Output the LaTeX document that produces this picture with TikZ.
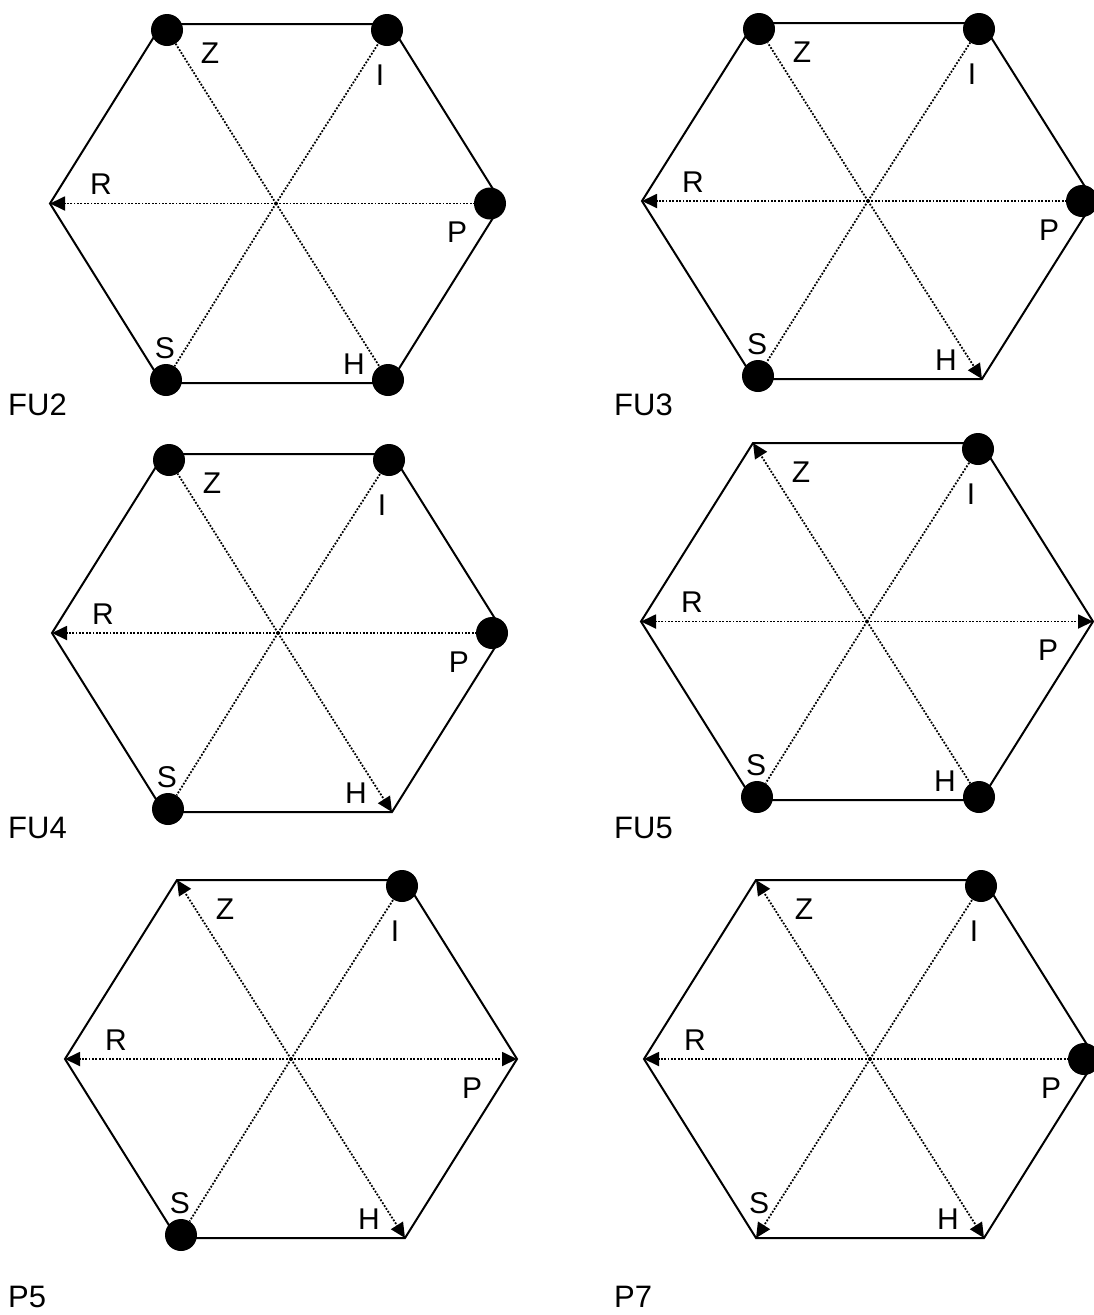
\documentclass[tikz,border=0pt]{standalone}
\usepackage{fontspec}
\setmainfont{Liberation Sans}
\usetikzlibrary{arrows.meta}
\tikzset{
  hexedge/.style={line width=2pt, line join=miter},
  ray/.style={line width=1.8pt, dash pattern=on 1.8pt off 1.6pt},
  rayarrow/.style={ray, -{Triangle[length=15pt,width=14pt]}},
  vdot/.style={circle, fill=black, draw=none, inner sep=0pt, minimum size=32pt},
  lbl/.style={inner sep=0pt, font=\fontsize{30}{30}\selectfont},
  paneltitle/.style={inner sep=0pt, anchor=west, font=\fontsize{31}{31}\selectfont},
}
% #1 prefix, #2 centre x, #3 top y, #4 bottom y
\newcommand\hexdiag[4]{%
  \pgfmathsetmacro\hcy{(#3+#4)/2}
  \coordinate (#1c) at (#2,\hcy);
  \coordinate (#1Z) at (#2-114,#3);
  \coordinate (#1I) at (#2+114,#3);
  \coordinate (#1P) at (#2+226,\hcy);
  \coordinate (#1H) at (#2+114,#4);
  \coordinate (#1S) at (#2-114,#4);
  \coordinate (#1R) at (#2-226,\hcy);
  \draw[hexedge] (#1Z) -- (#1I) -- (#1P) -- (#1H) -- (#1S) -- (#1R) -- cycle;
  \node[lbl] (#1lZ) at (#2-66,#3+29) {Z};
  \node[lbl] (#1lI) at (#2+104,#3+51) {I};
  \node[lbl] (#1lR) at (#2-175,\hcy-19) {R};
  \node[lbl] (#1lP) at (#2+181,\hcy+29) {P};
  \node[lbl] (#1lS) at (#2-111,#4-35) {S};
  \node[lbl] (#1lH) at (#2+78,#4-19) {H};
}
% dot at vertex: #1 prefix, #2 vertex, #3 dx, #4 dy
\newcommand\hexdot[4]{%
  \node[vdot] (#1d#2) at ([shift={(#3,#4)}]#1#2) {};
  \draw[ray] (#1c) -- (#1d#2);
}
\newcommand\hexarrow[2]{%
  \draw[rayarrow] (#1c) -- (#1#2);
}
\newcommand\dZ[1]{\hexdot{#1}{Z}{5}{6}}
\newcommand\dI[1]{\hexdot{#1}{I}{-3}{6}}
\newcommand\dP[1]{\hexdot{#1}{P}{-12}{0}}
\newcommand\dH[1]{\hexdot{#1}{H}{-2}{-3}}
\newcommand\dS[1]{\hexdot{#1}{S}{4}{-3}}

\begin{document}
\begin{tikzpicture}[x=1pt,y=-1pt]
\useasboundingbox (0,0) rectangle (1093,1315);
\fill[white] (0,0) rectangle (1093,1315);

% FU2
\hexdiag{A}{276}{24}{383}
\hexarrow{A}{R}
\dZ{A}\dI{A}\dP{A}\dH{A}\dS{A}
\node[paneltitle] (tA) at (8,405) {FU2};

% FU3
\hexdiag{B}{868}{23}{379}
\hexarrow{B}{R}\hexarrow{B}{H}
\dZ{B}\dI{B}\dP{B}\dS{B}
\node[paneltitle] (tB) at (614,405) {FU3};

% FU4
\hexdiag{C}{278}{454}{812}
\hexarrow{C}{R}\hexarrow{C}{H}
\dZ{C}\dI{C}\dP{C}\dS{C}
\node[paneltitle] (tC) at (8,828) {FU4};

% FU5
\hexdiag{D}{867}{443}{800}
\hexarrow{D}{Z}\hexarrow{D}{R}\hexarrow{D}{P}
\dI{D}\dH{D}\dS{D}
\node[paneltitle] (tD) at (614,828) {FU5};

% P5
\hexdiag{E}{291}{880}{1238}
\hexarrow{E}{Z}\hexarrow{E}{R}\hexarrow{E}{P}\hexarrow{E}{H}
\dI{E}\dS{E}
\node[paneltitle] (tE) at (8,1297) {P5};

% P7
\hexdiag{F}{870}{880}{1238}
\hexarrow{F}{Z}\hexarrow{F}{R}\hexarrow{F}{S}\hexarrow{F}{H}
\dI{F}\dP{F}
\node[paneltitle] (tF) at (614,1297) {P7};
\end{tikzpicture}
\end{document}
